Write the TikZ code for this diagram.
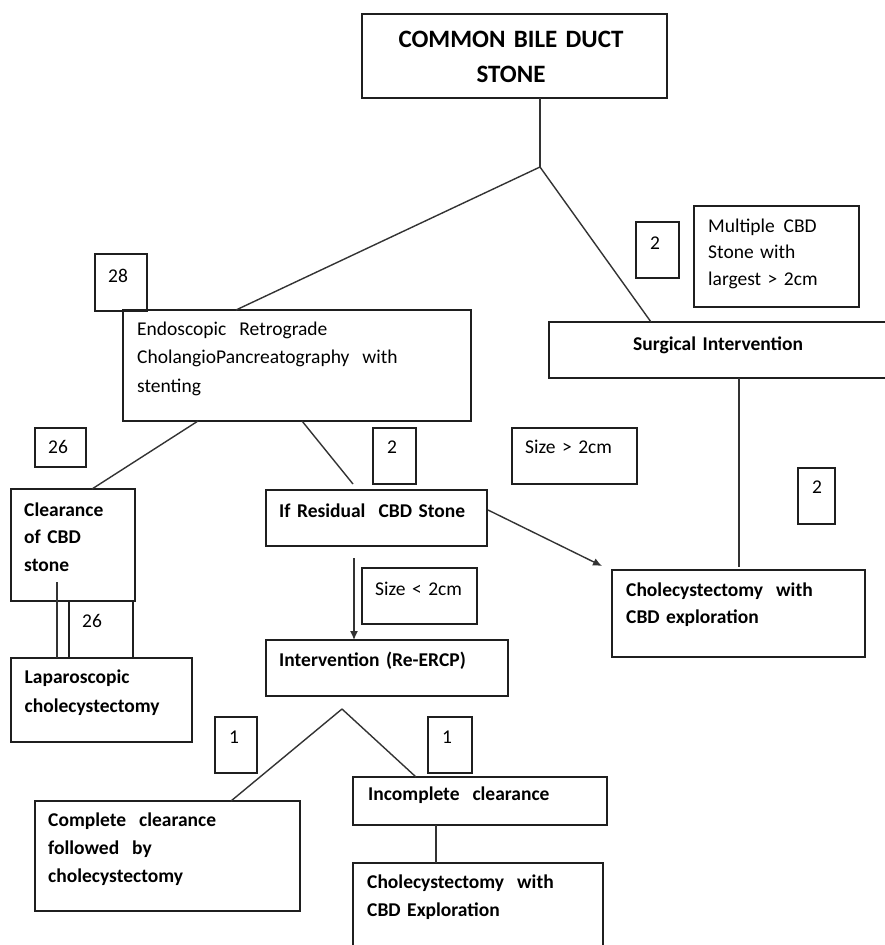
\documentclass[tikz,border=0pt]{standalone}
\usepackage{fontspec}
\setmainfont{Carlito}
\usetikzlibrary{calc,arrows.meta}
\newcommand{\mkbox}[5]{\node[bx, minimum width={(#4-#2)*1pt}, minimum height={(#5-#3)*1pt}] (#1) at (#2,#3) {};}
\begin{document}
\begin{tikzpicture}[x=1pt,y=-1pt,
  bx/.style={draw=black!88, line width=1.8pt, inner sep=0pt, outer sep=0pt, anchor=north west},
  ln/.style={draw=black!80, line width=1.4pt},
  arr/.style={ln, -{Latex[length=9pt,width=8pt]}},
  txt/.style={anchor=base west, inner sep=0pt, align=left, text width=420pt, font=\fontsize{19.5}{#1}\selectfont},
  txt/.default=27.5pt,
  btxt/.style={anchor=base west, inner sep=0pt, align=left, text width=420pt, font=\fontsize{19.5}{#1}\selectfont\bfseries},
  btxt/.default=27.5pt
]
\useasboundingbox (0,0) rectangle (885,945);
\fill[white] (0,0) rectangle (885,945);

% boxes
\mkbox{top}{362}{14}{667}{98}
\mkbox{boxTwoA}{636}{222}{679}{278}
\mkbox{multi}{694}{206}{859}{307}
\mkbox{surg}{549}{322}{888}{378}
\mkbox{sizeGt}{512}{428}{637}{484}
\mkbox{boxTwoB}{798}{468}{835}{524}
\mkbox{choleA}{612}{570}{865}{657}
\mkbox{boxTwentyEight}{95}{254}{147}{311}
\mkbox{ercp}{123}{310}{471}{421}
\mkbox{boxTwentySixA}{35}{428}{86}{467}
\mkbox{boxTwoC}{373}{428}{416}{484}
\mkbox{resid}{266}{490}{487}{546}
\mkbox{clear}{11}{489}{135}{601}
\mkbox{boxTwentySixB}{69}{601}{133}{658}
\mkbox{lap}{11}{658}{192}{742}
\mkbox{sizeLt}{362}{568}{477}{624}
\mkbox{interv}{266}{640}{508}{696}
\mkbox{boxOneA}{215}{717}{257}{773}
\mkbox{boxOneB}{428}{717}{472}{773}
\mkbox{complete}{35}{801}{300}{911}
\mkbox{incompl}{353}{777}{607}{825}
\mkbox{choleB}{353}{863}{603}{952}

% texts
\node[anchor=base, inner sep=0pt, align=center, text width=300pt, font=\fontsize{25}{35}\selectfont\bfseries] (tTop) at (511,47) {COMMON BILE DUCT\\STONE};
\node[txt] (tTwoA) at (650,249) {2};
\node[txt=26.5pt] (tMulti) at (708,232) {Multiple\hspace{0.45em}CBD\\Stone with\\largest > 2cm};
\node[btxt] (tSurg) at (633,350) {Surgical Intervention};
\node[txt] (tSizeGt) at (525,453) {Size > 2cm};
\node[txt] (tTwoB) at (812,493) {2};
\node[btxt=27pt] (tCholeA) at (626,596) {Cholecystectomy\ \ with\\CBD exploration};
\node[txt] (tTwentyEight) at (108,282) {28};
\node[txt=28.5pt] (tErcp) at (137,335) {Endoscopic\ \ Retrograde\\CholangioPancreatography\ \ with\\stenting};
\node[txt] (tTwentySixA) at (48,453) {26};
\node[txt] (tTwoC) at (387,453) {2};
\node[btxt] (tResid) at (279,517) {If Residual\ \ CBD Stone};
\node[btxt=27.5pt] (tClear) at (24,516) {Clearance\\of CBD\\stone};
\node[txt] (tTwentySixB) at (82,627) {26};
\node[txt] (tSizeLt) at (375,595) {Size < 2cm};
\node[btxt] (tInterv) at (279,666) {Intervention (Re-ERCP)};
\node[btxt=29pt] (tLap) at (24.5,683) {Laparoscopic\\cholecystectomy};
\node[txt] (tOneA) at (229,743) {1};
\node[txt] (tOneB) at (442,743) {1};
\node[btxt] (tIncompl) at (368,800) {Incomplete\ \ clearance};
\node[btxt=28pt] (tComplete) at (48,826) {Complete\ \ clearance\\followed\ \ by\\cholecystectomy};
\node[btxt=28pt] (tCholeB) at (367,888) {Cholecystectomy\ \ with\\CBD Exploration};

% connectors
\coordinate (apexA) at (540,167);
\draw[ln] ($(top.south west)+(178,0)$) -- (apexA);
\draw[ln] (apexA) -- ($(ercp.north west)+(113,0)$);
\draw[ln] (apexA) -- ($(surg.north west)+(102,0)$);
\draw[ln] ($(ercp.south west)+(75,0)$) -- ($(clear.north west)+(81,0)$);
\coordinate (residEnd) at (353,484);
\draw[ln] ($(ercp.south west)+(179,0)$) -- (residEnd);
\coordinate (arrEnd) at (602,566);
\draw[arr] ($(resid.north east)+(1,20)$) -- (arrEnd);
\coordinate (surgEnd) at (739,567);
\draw[ln] ($(surg.south west)+(190,0)$) -- (surgEnd);
\coordinate (clearIn) at (57,582);
\draw[ln] (clearIn) -- (clearIn |- lap.north);
\coordinate (arrStart) at (354,558);
\draw[arr] (arrStart) -- (arrStart |- interv.north);
\coordinate (apexB) at (342,709);
\draw[ln] (apexB) -- ($(complete.north west)+(196,0)$);
\draw[ln] (apexB) -- ($(incompl.north west)+(63,0)$);
\draw[ln] ($(incompl.south west)+(83,0)$) -- ($(choleB.north west)+(83,0)$);
\end{tikzpicture}
\end{document}
